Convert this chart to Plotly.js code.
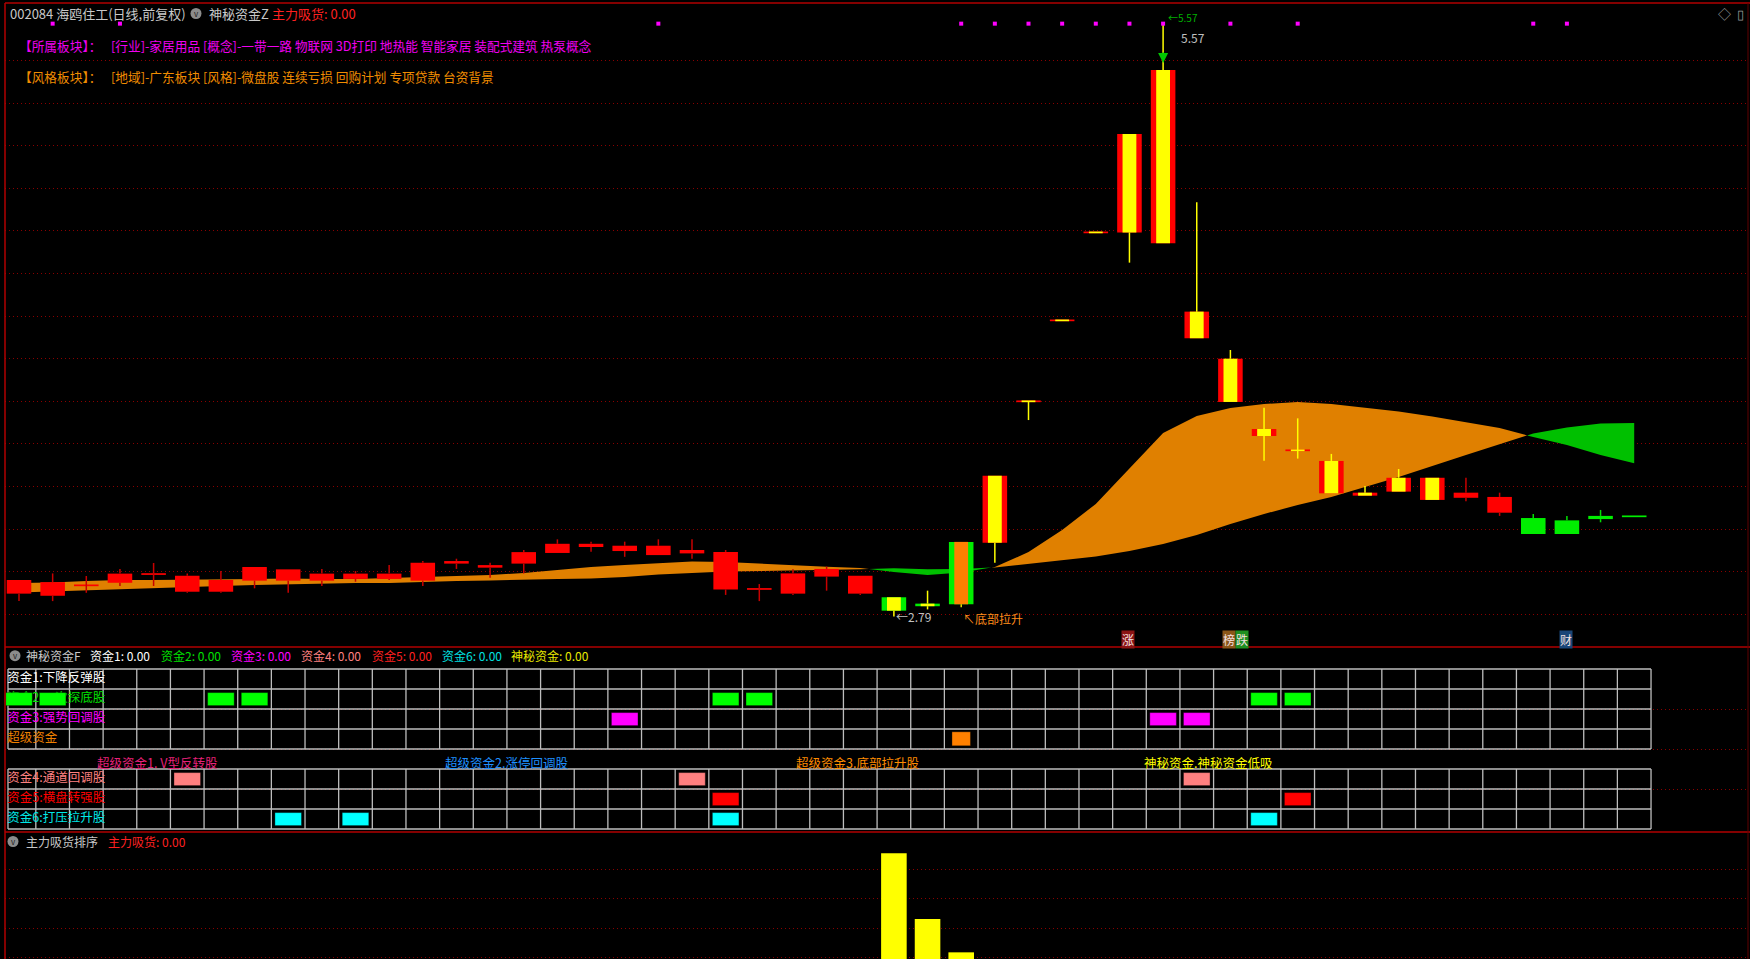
<!DOCTYPE html>
<html><head><meta charset="utf-8">
<script src="https://cdn.plot.ly/plotly-3.0.1.min.js"></script>
<style>html,body{margin:0;padding:0;background:#000;overflow:hidden}#chart{width:1750px;height:959px}</style>
</head><body><div id="chart"></div>
<script>
// ---------------- DATA ----------------
const openP  = [2.897,2.887,2.936,2.948,2.989,2.906,2.906,2.958,2.958,2.958,2.966,2.966,2.958,3.038,3.019,3.038,3.088,3.116,3.097,3.078,3.086,2.917,2.919,2.897,2.977,2.897,2.880,2.850,2.847,3.136,3.800,4.180,4.593,4.593,4.542,4.096,3.797,3.637,3.570,3.368,3.357,3.376,3.337,3.347,3.277,3.252,3.241,3.262,3.260];
const closeP = [2.961,2.951,2.936,2.991,2.989,2.981,2.961,3.022,3.011,2.991,2.991,2.991,3.042,3.050,3.031,3.092,3.131,3.131,3.122,3.122,3.102,3.092,2.919,2.992,3.013,2.981,2.817,2.838,3.140,3.450,3.800,4.180,4.593,5.055,5.355,4.221,4.000,3.670,3.570,3.520,3.371,3.441,3.441,3.371,3.351,3.177,3.177,3.247,3.260];
const highP  = [2.961,2.992,2.980,3.013,3.041,2.992,3.003,3.022,3.011,3.013,3.003,3.031,3.050,3.061,3.042,3.102,3.152,3.141,3.141,3.152,3.152,3.102,2.942,3.011,3.024,2.981,2.880,2.911,3.140,3.450,3.800,4.180,4.593,5.055,5.570,4.734,4.041,3.770,3.720,3.553,3.402,3.482,3.441,3.441,3.371,3.271,3.262,3.290,3.260];
const lowP   = [2.862,2.862,2.901,2.933,2.933,2.901,2.901,2.922,2.901,2.933,2.953,2.961,2.933,3.013,2.972,2.992,3.088,3.094,3.070,3.078,3.061,2.891,2.862,2.891,2.911,2.891,2.790,2.823,2.833,3.042,3.712,4.180,4.593,4.451,4.542,4.096,3.797,3.521,3.531,3.368,3.357,3.376,3.337,3.331,3.262,3.177,3.177,3.232,3.260];
const candleStyle = ['R','R','R','R','R','R','R','R','R','R','R','R','R','R','R','R','R','R','R','R','R','R','R','R','R','R','GY','GY','GO','RY','RY','RY','RY','RY','RY','RY','RY','RY','RY','RY','RY','RY','RY','R','R','G','G','G','G'];
// two averages forming the band
const bandA = [2.947,2.949,2.956,2.961,2.961,2.963,2.966,2.968,2.968,2.966,2.966,2.970,2.975,2.980,2.985,2.994,3.008,3.022,3.031,3.041,3.048,3.046,3.038,3.029,3.023,3.017,2.999,2.985,2.996,3.022,3.092,3.196,3.318,3.482,3.651,3.731,3.769,3.787,3.797,3.787,3.771,3.752,3.729,3.703,3.675,3.632,3.595,3.548,3.509];
const bandB = [2.902,2.907,2.914,2.919,2.923,2.928,2.933,2.938,2.942,2.945,2.947,2.947,2.952,2.956,2.959,2.961,2.966,2.968,2.975,2.987,2.994,3.001,3.005,3.005,3.008,3.011,3.016,3.012,3.013,3.020,3.036,3.053,3.071,3.097,3.130,3.172,3.224,3.271,3.313,3.351,3.398,3.445,3.496,3.548,3.600,3.649,3.677,3.696,3.698];
const signalDots = [1,3,19,28,29,30,31,32,33,34,36,38,45,46];
const priceGrid = [2.8,3.0,3.2,3.4,3.6,3.8,4.0,4.2,4.4,4.6,4.8,5.0,5.2,5.4];
const lowLabel = '←2.79', highLabel = '5.57', pullLabel = '↖底部拉升';
const badges = [{i:33,t:'涨',bg:'#8b1414'},{i:36,t:'榜',bg:'#8b5618'},{i:36,t:'跌',bg:'#1f8f1f'},{i:46,t:'财',bg:'#1a4678'}];

// grid panel (神秘资金F)
const upperRowLabels = ['资金1:下降反弹股','资金2:二次探底股','资金3:强势回调股','超级资金'];
const lowerRowLabels = ['资金4:通道回调股','资金5:横盘转强股','资金6:打压拉升股'];
const rowSignals = [[],[0,1,6,7,21,22,37,38],[18,34,35],[28],[5,20,35],[21,38],[8,10,21,37]];
const sectionTitles = ['超级资金1. V型反转股','超级资金2.涨停回调股','超级资金3.底部拉升股','神秘资金.神秘资金低吸'];
const headerF = ['神秘资金F','资金1: 0.00','资金2: 0.00','资金3: 0.00','资金4: 0.00','资金5: 0.00','资金6: 0.00','神秘资金: 0.00'];

// bottom panel (主力吸货排序)
const absorbIdx = [26,27,28];
const absorbVal = [45.6,23.1,11.7];

// header texts
const titleStock = '002084 海鸥住工(日线,前复权)';
const sectorHead = '【所属板块】：', sectorText = '[行业]-家居用品 [概念]-一带一路 物联网 3D打印 地热能 智能家居 装配式建筑 热泵概念';
const styleHead = '【风格板块】：', styleText = '[地域]-广东板块 [风格]-微盘股 连续亏损 回购计划 专项贷款 台资背景';

// ---------------- STYLE / LAYOUT ----------------
const W = 1750, H = 959;
const FONT = '"Noto Sans CJK SC","Noto Sans",sans-serif';
const XD = [5/W, 1747/W];
const XR = [-0.416, 51.352];
const YR = [2.6465, 5.670];
const Y2R = [8.15, -1.1];
const Y3R = [9.42, 52.91];
const dom1 = [1-647/H, 1-3/H], dom2 = [1-832/H, 1-647/H], dom3 = [0, 1-832/H];
const scheme = {
  R:{outer:'#ff0000', inner:null, wick:'#c80000'},
  RY:{outer:'#ff0000', inner:'#ffff00', wick:'#ffff00'},
  GY:{outer:'#00ee00', inner:'#ffff00', wick:'#ffff00'},
  GO:{outer:'#00ee00', inner:'#ff8000', wick:'#e8e000'},
  G:{outer:'#00ee00', inner:null, wick:'#00e000'}
};
const rowColors = ['#ffffff','#00ff00','#ff00ff','#ff8000','#ff8080','#ff0000','#00ffff'];
const labelColors = ['#ffffff','#00e000','#ff00ff','#f08000','#ff8080','#ff0000','#00e8e8'];
const titleColors = ['#e8207a','#1e90ff','#ff8c00','#ffff00'];

const traces = [];
const idx = openP.map((_, i) => i);

// ---- band (main subplot, below candles)
function bandPolys(xs, a, b) {
  const pos = {x:[], y:[]}, neg = {x:[], y:[]};
  let rx = [], ra = [], rb = [], sign = null;
  const flush = () => {
    if (rx.length > 1) {
      const t = sign > 0 ? pos : neg;
      t.x.push(...rx, ...rx.slice().reverse(), null);
      t.y.push(...ra, ...rb.slice().reverse(), null);
    }
  };
  for (let i = 0; i < xs.length; i++) {
    const d = a[i] - b[i], s = d >= 0 ? 1 : -1;
    if (sign === null) { sign = s; rx = [xs[i]]; ra = [a[i]]; rb = [b[i]]; continue; }
    if (s !== sign) {
      const d0 = a[i-1] - b[i-1], t = d0 / (d0 - d);
      const xc = xs[i-1] + t * (xs[i] - xs[i-1]), yc = a[i-1] + t * (a[i] - a[i-1]);
      rx.push(xc); ra.push(yc); rb.push(yc); flush();
      sign = s; rx = [xc, xs[i]]; ra = [yc, a[i]]; rb = [yc, b[i]];
    } else { rx.push(xs[i]); ra.push(a[i]); rb.push(b[i]); }
  }
  flush();
  return {pos, neg};
}
const band = bandPolys(idx, bandA, bandB);
traces.push({type:'scatter', x:band.pos.x, y:band.pos.y, fill:'toself', fillcolor:'#e08000', line:{width:0}, mode:'lines', hoverinfo:'skip', xaxis:'x', yaxis:'y'});
traces.push({type:'scatter', x:band.neg.x, y:band.neg.y, fill:'toself', fillcolor:'#00c000', line:{width:0}, mode:'lines', hoverinfo:'skip', xaxis:'x', yaxis:'y'});

// ---- candles (overlay subplot y5)
const MINH = 0.008;
const bodyBase = [], bodyH = [], outerCol = [];
idx.forEach(i => {
  const lo = Math.min(openP[i], closeP[i]), hi = Math.max(openP[i], closeP[i]);
  const h = Math.max(hi - lo, MINH);
  const mid = (lo + hi) / 2;
  bodyBase.push(mid - h/2); bodyH.push(h); outerCol.push(scheme[candleStyle[i]].outer);
});
const wickGroups = {};
idx.forEach(i => {
  const c = scheme[candleStyle[i]].wick;
  if (!wickGroups[c]) wickGroups[c] = {x:[], y:[]};
  const lo = Math.min(openP[i], closeP[i]), hi = Math.max(openP[i], closeP[i]);
  if (highP[i] > hi + 1e-6) { wickGroups[c].x.push(i, i, null); wickGroups[c].y.push(hi, highP[i], null); }
  if (lowP[i] < lo - 1e-6) { wickGroups[c].x.push(i, i, null); wickGroups[c].y.push(lowP[i], lo, null); }
});
Object.keys(wickGroups).forEach(c => {
  traces.push({type:'scatter', mode:'lines', x:wickGroups[c].x, y:wickGroups[c].y, line:{color:c, width:1.5}, hoverinfo:'skip', xaxis:'x', yaxis:'y5', connectgaps:false});
});
traces.push({type:'bar', x:idx, y:bodyH, base:bodyBase, width:0.73, marker:{color:outerCol, line:{width:0}}, hoverinfo:'skip', xaxis:'x', yaxis:'y5'});
const inX = [], inB = [], inH = [], inC = [];
idx.forEach(i => { const s = scheme[candleStyle[i]]; if (s.inner) { inX.push(i); inB.push(bodyBase[i]); inH.push(bodyH[i]); inC.push(s.inner); } });
traces.push({type:'bar', x:inX, y:inH, base:inB, width:0.41, marker:{color:inC, line:{width:0}}, hoverinfo:'skip', xaxis:'x', yaxis:'y5'});
const dotLevel = YR[1] - 0.097;
traces.push({type:'scatter', mode:'markers', x:signalDots, y:signalDots.map(() => dotLevel), marker:{symbol:'square', size:4, color:'#ff00ff'}, hoverinfo:'skip', xaxis:'x', yaxis:'y5', cliponaxis:false});

// ---- grid panel
const nC = idx.length;
const leftEdge = -0.327, rightEdge = nC - 0.5;
const vPos = [leftEdge, ...idx.slice(0, nC - 1).map(i => i + 0.5), rightEdge];
const gx = [], gy = [];
const blocks = [[0, upperRowLabels.length], [upperRowLabels.length + 1, upperRowLabels.length + 1 + lowerRowLabels.length]];
blocks.forEach(([r0, r1]) => {
  for (let r = r0; r <= r1; r++) { gx.push(leftEdge, rightEdge, null); gy.push(r, r, null); }
  vPos.forEach(v => { gx.push(v, v, null); gy.push(r0, r1, null); });
});
traces.push({type:'scatter', mode:'lines', x:gx, y:gy, line:{color:'#bdbdbd', width:1.3}, hoverinfo:'skip', xaxis:'x2', yaxis:'y2'});
const rowPos = [0,1,2,3,5,6,7];
const allLabels = [...upperRowLabels, ...lowerRowLabels];
traces.push({type:'scatter', mode:'text', x:allLabels.map(() => leftEdge - 0.02), y:rowPos.map(r => r + 0.5), text:allLabels, textposition:'middle right', textfont:{family:FONT, size:12.5, color:labelColors}, hoverinfo:'skip', xaxis:'x2', yaxis:'y2', cliponaxis:false});
rowSignals.forEach((list, k) => {
  if (!list.length) return;
  const isSuper = k === 3;
  const inset = isSuper ? 0.14 : 0.18, h = isSuper ? 0.70 : 0.65;
  traces.push({type:'bar', x:list, y:list.map(() => h), base:list.map(() => rowPos[k] + inset), width:isSuper ? 0.55 : 0.79,
    marker:{color:rowColors[k], line:{width:1, color:'rgba(0,0,0,0.35)'}}, hoverinfo:'skip', xaxis:'x2', yaxis:'y6'});
});

// ---- bottom panel
traces.push({type:'bar', x:absorbIdx, y:absorbVal, base:0, width:0.76, marker:{color:'#ffff00', line:{width:0}}, hoverinfo:'skip', xaxis:'x3', yaxis:'y3'});

// ---------------- ANNOTATIONS ----------------
const P = px => px / W, Q = py => 1 - py / H;
function T(xpx, ypx, text, color, size, xanchor) {
  return {xref:'paper', yref:'paper', x:P(xpx), y:Q(ypx), text, showarrow:false, xanchor:xanchor || 'left', yanchor:'middle', font:{family:FONT, size, color}};
}
const ann = [];
ann.push(T(8, 13.5, titleStock, '#c8c8c8', 13));
ann.push(T(196, 13.5, 'v', '#1a1a1a', 8, 'center'));
ann.push(T(207, 13.5, '神秘资金Z', '#c8c8c8', 13));
ann.push(T(270, 13.5, '主力吸货: 0.00', '#ff2020', 13));
ann.push(T(17, 46, sectorHead, '#f000f0', 12.7));
ann.push(T(109, 46, sectorText, '#f000f0', 12.7));
ann.push(T(17, 76, styleHead, '#f08c00', 12.7));
ann.push(T(109, 76, styleText, '#f08c00', 12.7));
ann.push(T(1724, 14, '◇', '#9a9a9a', 13, 'center'));
ann.push(T(1740, 14, '▯', '#9a9a9a', 13, 'center'));
const headerFX = [24, 88, 159, 229, 299, 370, 440, 509];
const headerFC = ['#c8c8c8','#ffffff','#00e000','#ff00ff','#ff8080','#ff2020','#00e0e0','#e8e800'];
headerF.forEach((t, k) => ann.push(T(headerFX[k], 655.7, t, headerFC[k], 12)));
ann.push(T(15, 655.7, 'v', '#1a1a1a', 8, 'center'));
const titleX = [157, 506.5, 857.5, 1208];
sectionTitles.forEach((t, k) => ann.push(T(titleX[k], 762.3, t, titleColors[k], 12.5, 'center')));
ann.push(T(13, 841.5, 'v', '#1a1a1a', 8, 'center'));
ann.push(T(24, 841.5, '主力吸货排序', '#c8c8c8', 12));
ann.push(T(106, 841.5, '主力吸货: 0.00', '#ff2020', 12));
// price labels
ann.push({xref:'x', yref:'y', x:26, y:lowP[26], text:lowLabel, showarrow:false, xanchor:'left', yanchor:'middle', font:{family:FONT, size:12, color:'#c0c0c0'}});
ann.push({xref:'x', yref:'y', x:28, y:lowP[28], text:pullLabel, showarrow:false, xanchor:'left', yanchor:'top', yshift:-1, font:{family:FONT, size:12, color:'#ff8c1a'}});
ann.push({xref:'x', yref:'y', x:34, y:highP[34], text:'←' + highLabel, showarrow:false, xanchor:'left', yanchor:'bottom', xshift:3, yshift:-3, font:{family:FONT, size:10, color:'#00b000'}});
ann.push({xref:'x', yref:'y', x:34, y:highP[34], text:highLabel, showarrow:false, xanchor:'left', yanchor:'top', xshift:16, yshift:-3, font:{family:FONT, size:12, color:'#c0c0c0'}});
ann.push({xref:'x', yref:'y', x:34, y:closeP[34], text:'', showarrow:true, ax:0, ay:-19, standoff:7, arrowhead:2, arrowsize:1, arrowwidth:2, arrowcolor:'#00c800'});
const badgeShift = {'涨':-1,'榜':-1,'跌':12,'财':-1};
badges.forEach(b => ann.push({xref:'x', yref:'paper', x:b.i, y:Q(639), text:b.t, showarrow:false, xanchor:'center', yanchor:'middle', xshift:badgeShift[b.t], bgcolor:b.bg, borderpad:0, font:{family:FONT, size:12, color:'#f4e0e0'}}));

// ---------------- SHAPES (frame) ----------------
const red = '#b00000';
const shapes = [
  {type:'line', xref:'paper', yref:'paper', x0:P(5), x1:1, y0:Q(3), y1:Q(3), line:{color:red, width:1.5}},
  {type:'line', xref:'paper', yref:'paper', x0:P(5), x1:1, y0:Q(647), y1:Q(647), line:{color:red, width:1.5}},
  {type:'line', xref:'paper', yref:'paper', x0:P(5), x1:1, y0:Q(832), y1:Q(832), line:{color:red, width:1.5}},
  {type:'line', xref:'paper', yref:'paper', x0:P(5), x1:P(5), y0:0, y1:Q(3), line:{color:red, width:1.5}},
  {type:'line', xref:'paper', yref:'paper', x0:P(1748), x1:P(1748), y0:0, y1:Q(3), line:{color:'#600000', width:1}}
];
[[196,13.5],[15,655.7],[13,841.5]].forEach(([cx, cy]) => shapes.push({type:'circle', xref:'paper', yref:'paper', x0:P(cx-5.5), x1:P(cx+5.5), y0:Q(cy+5.5), y1:Q(cy-5.5), fillcolor:'#8c8c8c', line:{width:0}, layer:'below'}));

const gridStyle = {showgrid:true, gridcolor:'#8a0000', griddash:'1px,3px', gridwidth:1, showticklabels:false, ticks:'', zeroline:false, showline:false, fixedrange:true};
const layout = {
  width:W, height:H, margin:{l:0, r:0, t:0, b:0, pad:0},
  paper_bgcolor:'#000', plot_bgcolor:'#000', showlegend:false, barmode:'overlay',
  font:{family:FONT, color:'#cccccc', size:12},
  xaxis:{domain:XD, range:XR, visible:false, anchor:'y', fixedrange:true},
  yaxis:Object.assign({domain:dom1, range:YR, tickvals:priceGrid, anchor:'x'}, gridStyle),
  yaxis5:{overlaying:'y', anchor:'x', range:YR, visible:false, fixedrange:true},
  xaxis2:{domain:XD, matches:'x', anchor:'y2', visible:false},
  yaxis2:Object.assign({domain:dom2, range:Y2R, tickvals:[2,4,6], anchor:'x2'}, gridStyle),
  yaxis6:{overlaying:'y2', anchor:'x2', range:Y2R, visible:false, fixedrange:true},
  xaxis3:{domain:XD, matches:'x', anchor:'y3', visible:false},
  yaxis3:Object.assign({domain:dom3, range:Y3R, tickvals:[10,20,30,40], anchor:'x3'}, gridStyle),
  annotations:ann, shapes:shapes
};
Plotly.newPlot('chart', traces, layout, {staticPlot:true, displayModeBar:false});
</script></body></html>
